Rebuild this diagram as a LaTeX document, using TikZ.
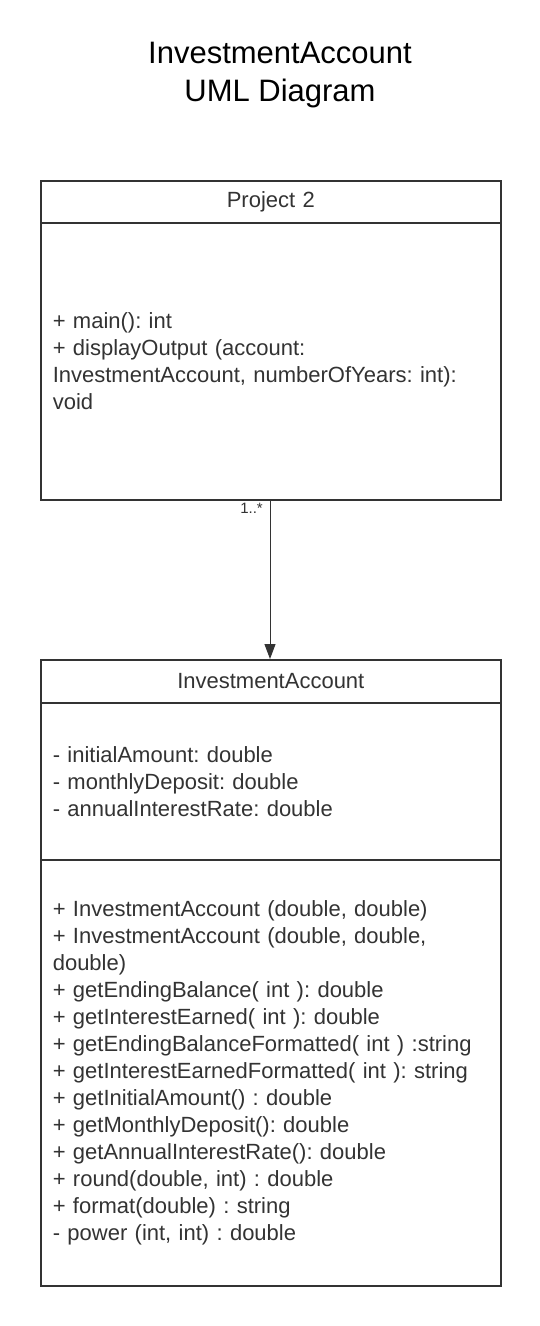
\documentclass[tikz,border=0pt]{standalone}
\usepackage{fontspec}
\setmainfont{Liberation Sans}
\usetikzlibrary{arrows.meta}
\definecolor{ink}{HTML}{333333}
\frenchspacing
\begin{document}
\begin{tikzpicture}[x=1pt,y=-1pt,
  comp/.style={draw=ink, line width=1.6pt, rectangle, anchor=north west,
    minimum width=460pt, text width=436pt, inner xsep=12pt, inner ysep=0pt,
    text=ink, font=\fontsize{22}{27}\selectfont},
  headbox/.style={comp, align=center},
  bodybox/.style={comp, align=left},
  title/.style={text=black, align=center, font=\fontsize{31}{38}\selectfont},
  mult/.style={text=ink, font=\fontsize{15}{18}\selectfont, inner sep=0pt},
  assoc/.style={draw=ink, line width=1pt, -{Triangle[length=15pt,width=11pt]}}
]
\useasboundingbox[fill=white] (0,0) rectangle (540,1326);

\node[title] (ttl) at (280,75) {InvestmentAccount\\UML Diagram};

% Project 2 class
\node[headbox, minimum height=42pt] (p2head) at (40,180) {Project 2};
\node[bodybox, minimum height=277pt] (p2body) at (40,222)
  {+ main(): int\\
   + displayOutput (account:\\
   InvestmentAccount, numberOfYears: int):\\
   void};

% InvestmentAccount class
\node[headbox, minimum height=43pt] (iahead) at (40,659) {InvestmentAccount};
\node[bodybox, minimum height=157pt] (iaattr) at (40,702)
  {- initialAmount: double\\
   - monthlyDeposit: double\\
   - annualInterestRate: double};
\node[bodybox, minimum height=426pt] (iameth) at (40,859)
  {+ InvestmentAccount (double, double)\\
   + InvestmentAccount (double, double,\\
   double)\\
   + getEndingBalance( int ): double\\
   + getInterestEarned( int ): double\\
   + getEndingBalanceFormatted( int ) :string\\
   + getInterestEarnedFormatted( int ): string\\
   + getInitialAmount() : double\\
   + getMonthlyDeposit(): double\\
   + getAnnualInterestRate(): double\\
   + round(double, int) : double\\
   + format(double) : string\\
   - power (int, int) : double};

% association
\coordinate (ax) at (270,0);
\draw[assoc] (p2body.south -| ax) -- (iahead.north -| ax);
\node[mult, anchor=north east] (m1) at ([xshift=-7pt,yshift=-2pt]p2body.south -| ax) {1..*};
\end{tikzpicture}
\end{document}
